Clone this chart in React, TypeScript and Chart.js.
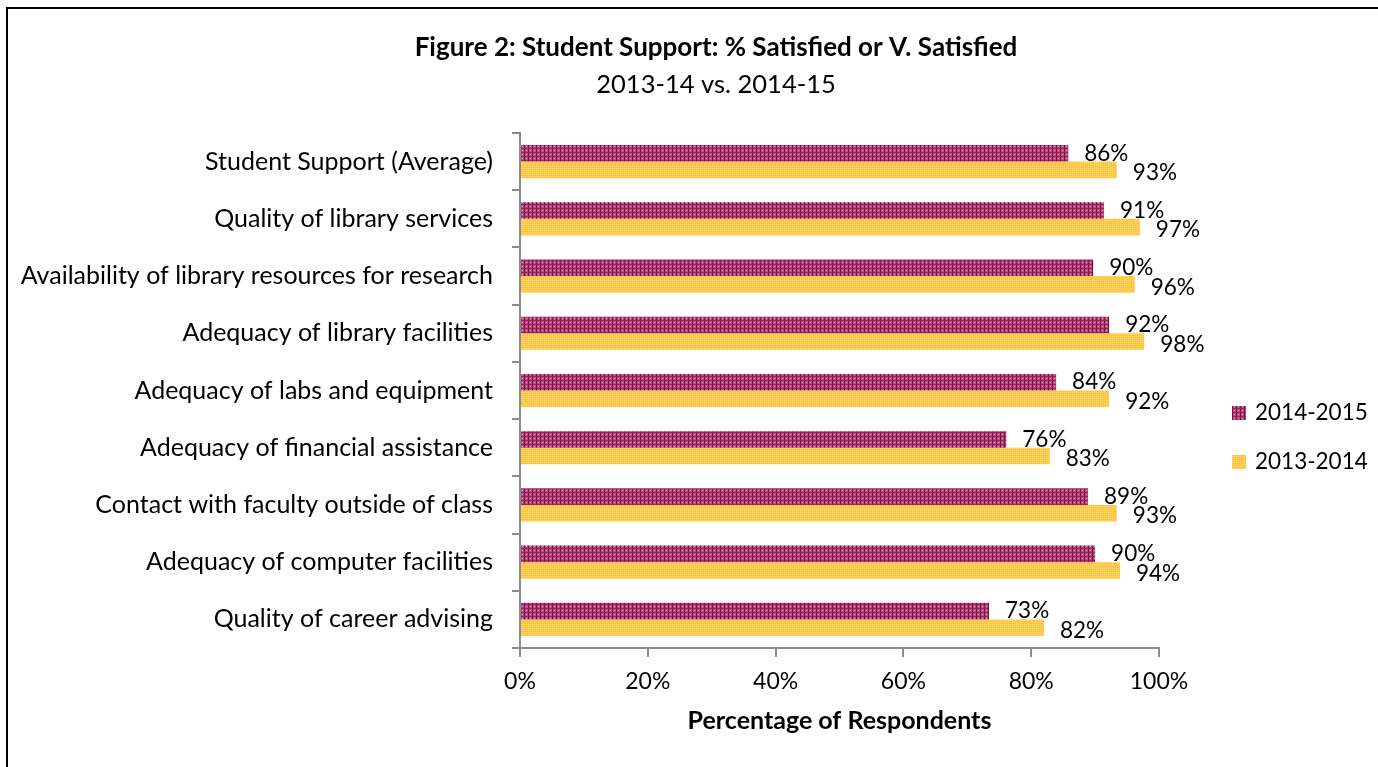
import React, { useEffect, useRef } from "react";
import { Chart, registerables } from "chart.js";

Chart.register(...registerables);

const categories: string[] = [
  "Student Support (Average)",
  "Quality of library services",
  "Availability of library resources for research",
  "Adequacy of library facilities",
  "Adequacy of labs and equipment",
  "Adequacy of financial assistance",
  "Contact with faculty outside of class",
  "Adequacy of computer facilities",
  "Quality of career advising",
];

const series2014_2015: number[] = [85.8, 91.4, 89.7, 92.2, 83.9, 76.1, 88.9, 90.0, 73.4];
const series2013_2014: number[] = [93.4, 97.0, 96.2, 97.7, 92.2, 82.9, 93.4, 93.9, 82.0];
const seriesNames: string[] = ["2014-2015", "2013-2014"];
const xTicks: number[] = [0, 20, 40, 60, 80, 100];

const titleText = "Figure 2: Student Support: % Satisfied or V. Satisfied";
const subtitleText = "2013-14 vs. 2014-15";
const xAxisTitle = "Percentage of Respondents";

const FONT = "Lato, 'Open Sans', sans-serif";

function makePattern(bg: string, vline: string, hline: string, dot: string): CanvasPattern | string {
  const c = document.createElement("canvas");
  c.width = 4;
  c.height = 4;
  const g = c.getContext("2d");
  if (!g) return bg;
  g.fillStyle = bg;
  g.fillRect(0, 0, 4, 4);
  g.fillStyle = hline;
  g.fillRect(0, 0, 4, 1);
  g.fillStyle = vline;
  g.fillRect(0, 0, 1, 4);
  g.fillStyle = dot;
  g.fillRect(2, 2, 1, 1);
  const p = g.createPattern(c, "repeat");
  return p || bg;
}

export default function App() {
  const ref = useRef<HTMLCanvasElement | null>(null);

  useEffect(() => {
    const canvas = ref.current;
    if (!canvas) return;
    const magenta = makePattern("#b24a7a", "#8a0b4a", "#9c2a62", "#dba6bd");
    const yellow = makePattern("#ffc23a", "#ffd05e", "#ffd05e", "#ffe39a");

    const overlay = {
      id: "overlay",
      afterDraw(chart: any) {
        const ctx = chart.ctx as CanvasRenderingContext2D;
        const area = chart.chartArea;
        ctx.save();
        ctx.fillStyle = "#000";
        ctx.textAlign = "center";
        ctx.textBaseline = "middle";
        ctx.font = `bold 26px ${FONT}`;
        ctx.fillText(titleText, 716, 48);
        ctx.font = `25.5px ${FONT}`;
        ctx.fillText(subtitleText, 716, 85);
        ctx.font = `bold 25px ${FONT}`;
        ctx.fillText(xAxisTitle, (area.left + area.right) / 2, 721);

        ctx.font = `22.5px ${FONT}`;
        ctx.textAlign = "left";
        chart.data.datasets.forEach((ds: any, di: number) => {
          const meta = chart.getDatasetMeta(di);
          meta.data.forEach((bar: any, i: number) => {
            const v = ds.data[i] as number;
            const y = bar.y + (di === 1 ? 3 : 0);
            ctx.fillText(Math.round(v) + "%", bar.x + 16, y);
          });
        });

        chart.data.datasets.forEach((ds: any, di: number) => {
          const cy = 413 + di * 49;
          ctx.fillStyle = ds.backgroundColor;
          ctx.fillRect(1232, cy - 7, 14, 14);
          ctx.fillStyle = "#000";
          ctx.textAlign = "left";
          ctx.fillText(ds.label, 1255, cy);
        });
        ctx.restore();
      },
    };

    const chart = new Chart(canvas, {
      type: "bar",
      data: {
        labels: categories,
        datasets: [
          {
            label: seriesNames[0],
            data: series2014_2015,
            backgroundColor: magenta as any,
            borderWidth: 0,
            categoryPercentage: 0.58,
            barPercentage: 1,
          },
          {
            label: seriesNames[1],
            data: series2013_2014,
            backgroundColor: yellow as any,
            borderWidth: 0,
            categoryPercentage: 0.58,
            barPercentage: 1,
          },
        ],
      },
      options: {
        indexAxis: "y",
        responsive: false,
        maintainAspectRatio: false,
        animation: false,
        layout: { padding: { top: 133, left: 0, right: 219, bottom: 0 } },
        plugins: {
          legend: { display: false },
          title: { display: false },
          tooltip: { enabled: false },
        },
        scales: {
          y: {
            type: "category",
            grid: {
              display: true,
              drawOnChartArea: false,
              drawTicks: true,
              tickLength: 8,
              color: "#8c8c8c",
              lineWidth: 2,
              offset: true,
            },
            border: { display: true, color: "#8c8c8c", width: 2 },
            ticks: {
              color: "#000",
              font: { family: FONT, size: 25 },
              padding: 19,
              autoSkip: false,
            },
            afterFit: (s: any) => {
              s.width = 520;
            },
          },
          x: {
            type: "linear",
            min: 0,
            max: 100,
            afterBuildTicks: (s: any) => {
              s.ticks = xTicks.map((v) => ({ value: v }));
            },
            grid: {
              display: true,
              drawOnChartArea: false,
              drawTicks: true,
              tickLength: 9,
              color: "#8c8c8c",
              lineWidth: 2,
            },
            border: { display: true, color: "#8c8c8c", width: 2 },
            ticks: {
              color: "#000",
              font: { family: FONT, size: 23 },
              padding: 11,
              callback: (v: any) => v + "%",
            },
            afterFit: (s: any) => {
              s.height = 119;
            },
          },
        },
      },
      plugins: [overlay],
    });
    return () => chart.destroy();
  }, []);

  return (
    <div style={{ position: "fixed", left: 0, top: 0, width: 1378, height: 767, overflow: "hidden", background: "#fff" }}>
      <div
        style={{
          position: "absolute",
          left: 6,
          top: 7,
          width: 1500,
          height: 900,
          borderTop: "2px solid #000",
          borderLeft: "2px solid #000",
        }}
      />
      <canvas
        ref={ref}
        width={1378}
        height={767}
        style={{ position: "absolute", left: 0, top: 0, width: 1378, height: 767 }}
      />
    </div>
  );
}
